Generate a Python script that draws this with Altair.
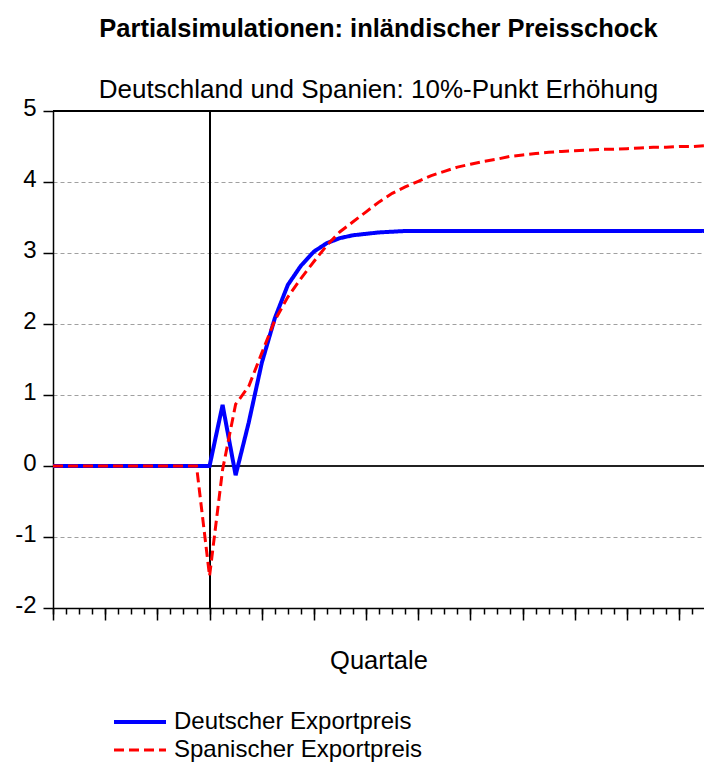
import altair as alt
import pandas as pd

# ---- data ----
quarters = list(range(51))
deutsch = [0.0] * 13 + [0.86, -0.13, 0.61, 1.45, 2.08, 2.55, 2.82, 3.02, 3.14,
                        3.21, 3.25, 3.27, 3.29, 3.30] + [3.31] * 24
spanisch = [0.0] * 12 + [-1.55, -0.05, 0.87, 1.12, 1.59, 2.05, 2.38, 2.64, 2.88,
                         3.11, 3.30, 3.44, 3.58, 3.72, 3.84, 3.93, 4.01, 4.09,
                         4.15, 4.21, 4.25, 4.29, 4.32, 4.36, 4.38, 4.40, 4.42,
                         4.43, 4.44, 4.45, 4.46, 4.46, 4.47, 4.48, 4.49, 4.49,
                         4.50, 4.50, 4.51]
series_names = ["Deutscher Exportpreis", "Spanischer Exportpreis"]
y_ticks = [-2, -1, 0, 1, 2, 3, 4, 5]
major_ticks = list(range(0, 50, 4))
shock_quarter = 12

df = pd.concat([
    pd.DataFrame({"q": quarters, "v": deutsch, "s": series_names[0]}),
    pd.DataFrame({"q": quarters, "v": spanisch, "s": series_names[1]}),
])

FONT = "Liberation Sans"
xscale = alt.Scale(domain=[0, 49.9], nice=False, zero=False)
yscale = alt.Scale(domain=[-2, 5], nice=False, zero=False)

y_axis = alt.Axis(values=y_ticks, labelExpr="toString(datum.value)", tickSize=10,
                  labelFontSize=24, labelPadding=7, labelOffset=-3,
                  labelColor="black", grid=True, gridDash=[4, 3],
                  gridColor="#a0a0a0", gridWidth=1, domainColor="black",
                  domainWidth=1.5, tickColor="black", tickWidth=1.5, title=None)

lines = alt.Chart(df).mark_line(clip=True).encode(
    x=alt.X("q:Q", scale=xscale,
            axis=alt.Axis(values=quarters, labels=False, tickSize=6, tickWidth=1.5,
                          tickColor="black", domainColor="black", domainWidth=1.5,
                          grid=False, title="Quartale", titleFontSize=25.5,
                          titleFontWeight="normal", titleColor="black",
                          titlePadding=34, orient="bottom")),
    y=alt.Y("v:Q", scale=yscale, axis=y_axis),
    color=alt.Color("s:N", scale=alt.Scale(domain=series_names, range=["#0000ff", "#ff0000"]),
                    legend=alt.Legend(title=None)),
    strokeDash=alt.StrokeDash("s:N", scale=alt.Scale(domain=series_names, range=[[1, 0], [10, 5]]),
                              legend=alt.Legend(title=None)),
    strokeWidth=alt.StrokeWidth("s:N", scale=alt.Scale(domain=series_names, range=[4, 3]),
                                legend=None),
)

shock = alt.Chart(df).mark_rule(color="black", strokeWidth=1).encode(
    x=alt.X(datum=shock_quarter, type="quantitative", scale=xscale,
            axis=alt.Axis(values=major_ticks, labels=False, tickSize=12, tickWidth=1.5,
                          tickColor="black", domain=False, grid=False, title=None,
                          orient="bottom")),
)

zero_line = alt.Chart(df).mark_rule(color="#222222", strokeWidth=1.5).encode(
    y=alt.Y(datum=0, type="quantitative", scale=yscale),
)
top_line = alt.Chart(df).mark_rule(color="black", strokeWidth=1.5).encode(
    y=alt.Y(datum=5, type="quantitative", scale=yscale),
)

chart = alt.layer(shock, zero_line, top_line, lines).resolve_scale(
    x="shared", y="shared"
).resolve_axis(x="independent").properties(
    width=651,
    height=497,
    autosize=alt.AutoSizeParams(type="none"),
    padding={"left": 45, "top": 103, "right": 0, "bottom": 158},
    title=alt.TitleParams(
        text="Partialsimulationen: inländischer Preisschock",
        subtitle="Deutschland und Spanien: 10%-Punkt Erhöhung",
        font=FONT, subtitleFont=FONT, fontSize=25.5, fontWeight="bold",
        subtitleFontSize=26, color="black", subtitleColor="black",
        anchor="middle", offset=-7, subtitlePadding=35,
    ),
).configure_view(stroke=None).configure_axis(
    labelFont=FONT, titleFont=FONT
).configure_legend(
    orient="none", legendX=59, legendY=597, padding=0, labelFont=FONT,
    labelFontSize=24, labelColor="black", labelLimit=500, symbolType="stroke",
    symbolSize=2704, symbolStrokeWidth=3.5, labelOffset=6, clipHeight=28,
    rowPadding=0,
)

chart.save("out.html", embed_options={"renderer": "svg", "actions": False})
